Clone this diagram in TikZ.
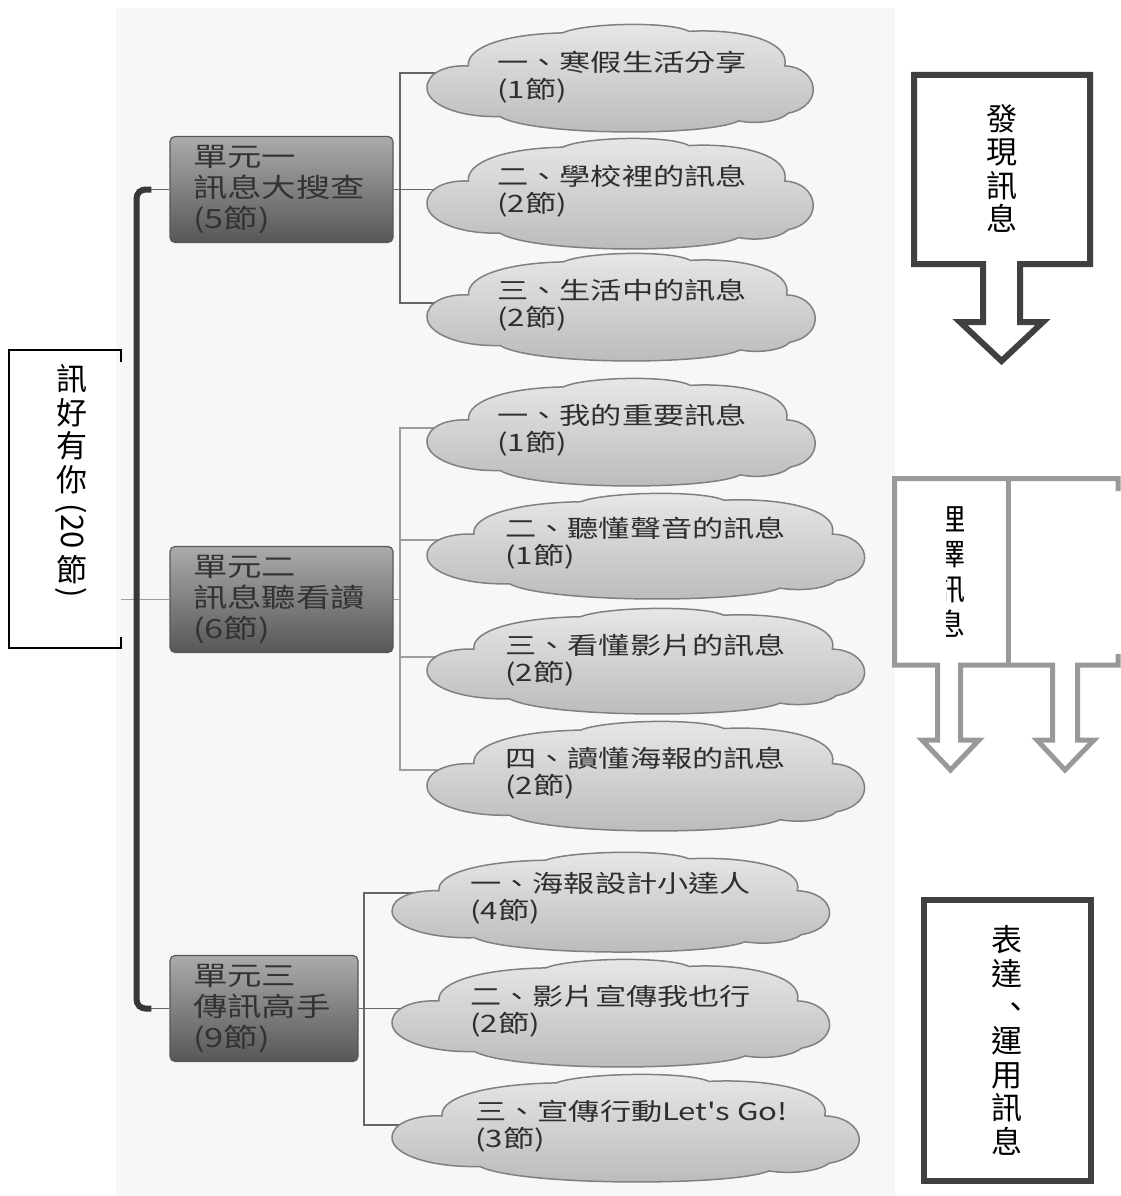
\documentclass[tikz,border=0pt]{standalone}
\usepackage{fontspec}
\newfontfamily\cjk{Noto Sans CJK TC}
\newfontfamily\cjkw[FakeStretch=1.3]{Noto Sans CJK TC}
\definecolor{bgc}{HTML}{F7F7F7}
\tikzset{
  unitbox/.style={rounded corners=5pt, draw=black!65, line width=1.2pt,
    top color=black!33, bottom color=black!66, text=black!80,
    font=\cjkw\fontsize{26.5}{31}\selectfont, align=left,
    inner xsep=23pt, inner ysep=0pt, minimum height=106pt},
  cloudsty/.style={draw=black!50, line width=1.5pt, top color=black!9, bottom color=black!27},
  ctext/.style={font=\cjkw\fontsize{24}{27}\selectfont, text=black!82, align=left, inner sep=0pt, anchor=west},
  vtext/.style={font=\cjk\fontsize{31}{33.5}\selectfont, align=center, inner sep=0pt, text=black},
  trunk/.style={line width=6pt, draw=black!78, rounded corners=9pt},
  brdark/.style={line width=1.5pt, draw=black!60},
  brlight/.style={line width=1.5pt, draw=black!38},
  darkarrow/.style={line width=6pt, draw=black!75},
  greyarrow/.style={line width=5pt, draw=black!40}
}
\newcommand\drawcloud[4]{%
  \begin{scope}[shift={(#1,#2)}, xscale=#3, yscale=#4]
    \path[cloudsty] (0,0.59)
      .. controls (0,0.45) and (0.05,0.38) .. (0.106,0.39)
      .. controls (0.10,0.22) and (0.20,0.10) .. (0.347,0.09)
      .. controls (0.40,0.0) and (0.62,-0.02) .. (0.67,0.076)
      .. controls (0.80,0.05) and (0.93,0.16) .. (0.915,0.39)
      .. controls (1.0,0.40) and (1.02,0.75) .. (0.924,0.82)
      .. controls (0.90,0.90) and (0.84,0.92) .. (0.797,0.89)
      .. controls (0.72,1.03) and (0.27,1.03) .. (0.186,0.85)
      .. controls (0.08,0.86) and (0,0.74) .. (0,0.59) -- cycle;
  \end{scope}}
\begin{document}
\begin{tikzpicture}[x=1pt, y=-1pt]
\useasboundingbox (0,0) rectangle (1121,1196);
\fill[white] (0,0) rectangle (1121,1196);
\fill[bgc] (116,8) rectangle (895,1196);

% root box
\draw[line width=2pt] (121,362) -- (121,350) -- (9,350) -- (9,648) -- (121,648) -- (121,637);
\node[vtext] (root) at (72,429) {訊\\好\\有\\你};
\node[vtext, rotate=-90] (root20) at (71,526) {(20};
\node[vtext] (rootjie) at (72,570) {節};
\node[vtext, rotate=-90] (rootpar) at (71,593) {)};
\coordinate (rootR) at (121,599.5);

% unit boxes
\node[unitbox, minimum width=223pt, text width=177pt] (u1) at (281.5,189.5) {單元一\\訊息大搜查\\(5節)};
\node[unitbox, minimum width=223pt, text width=177pt] (u2) at (281.5,599.5) {單元二\\訊息聽看讀\\(6節)};
\node[unitbox, minimum width=188pt, text width=142pt] (u3) at (264,1008.5) {單元三\\傳訊高手\\(9節)};

% trunk
\coordinate (tx) at (136.5,600);
\draw[brdark] (tx |- u1.west) -- (u1.west);
\draw[brdark] (tx |- u3.west) -- (u3.west);
\draw[brlight] (rootR) -- (u2.west);
\draw[trunk] ([xshift=-18pt]u1.west) -- (tx |- u1.west) -- (tx |- u3.west) -- ([xshift=-18pt]u3.west);

% cloud connection points
\coordinate (c1) at (470,73);
\coordinate (c2) at (470,189.5);
\coordinate (c3) at (470,303);
\coordinate (c4) at (470,428);
\coordinate (c5) at (470,540);
\coordinate (c6) at (470,657);
\coordinate (c7) at (470,770);
\coordinate (c8) at (430,893);
\coordinate (c9) at (430,1008.5);
\coordinate (c10) at (430,1125);
\coordinate (k1) at (400,189.5);
\coordinate (k2) at (400,599.5);
\coordinate (k3) at (364,1008.5);

\draw[brdark] (u1.east) -- (k1);
\draw[brdark] (c1) -| (k1) |- (c3);
\draw[brdark] (k1) -- (c2);
\draw[brlight] (u2.east) -- (k2);
\draw[brlight] (c4) -| (k2) |- (c7);
\draw[brlight] (k2 |- c5) -- (c5);
\draw[brlight] (k2 |- c6) -- (c6);
\draw[brdark] (u3.east) -- (k3);
\draw[brdark] (c8) -| (k3) |- (c10);
\draw[brdark] (k3) -- (c9);

% clouds
\drawcloud{427}{23}{391}{110}
\drawcloud{427}{137}{391}{113}
\drawcloud{427}{252}{393}{110}
\drawcloud{427}{377}{393}{110}
\drawcloud{427}{492}{443}{108}
\drawcloud{427}{607}{443}{108}
\drawcloud{427}{720}{443}{112}
\drawcloud{392}{851}{443}{102}
\drawcloud{392}{958}{443}{110}
\drawcloud{392}{1073}{473}{110}

\node[ctext] (t1) at (497,77.5) {一、寒假生活分享\\(1節)};
\node[ctext] (t2) at (497,191) {二、學校裡的訊息\\(2節)};
\node[ctext] (t3) at (497,305) {三、生活中的訊息\\(2節)};
\node[ctext] (t4) at (497,430) {一、我的重要訊息\\(1節)};
\node[ctext] (t5) at (505,543.5) {二、聽懂聲音的訊息\\(1節)};
\node[ctext] (t6) at (505,660) {三、看懂影片的訊息\\(2節)};
\node[ctext] (t7) at (505,773.5) {四、讀懂海報的訊息\\(2節)};
\node[ctext] (t8) at (470,898.5) {一、海報設計小達人\\(4節)};
\node[ctext] (t9) at (470,1011.5) {二、影片宣傳我也行\\(2節)};
\node[ctext] (t10) at (475,1126.5) {三、宣傳行動Let's Go!\\(3節)};

% discover arrow
\draw[darkarrow] (914,75) -- (1090,75) -- (1090,264) -- (1020,264) -- (1020,322) -- (1043,322) -- (1001.5,361) -- (960,322) -- (983,322) -- (983,264) -- (914,264) -- cycle;
\node[vtext] (discover) at (1001.5,168.5) {發\\現\\訊\\息};

% middle double arrow
\draw[greyarrow] (1118,491) -- (1118,478.5) -- (894.5,478.5) -- (894.5,665) -- (937.5,665) -- (937.5,740) -- (922,740) -- (950.5,770) -- (979,740) -- (960.5,740) -- (960.5,665) -- (1052.5,665) -- (1052.5,740) -- (1037,740) -- (1065,770) -- (1094,740) -- (1077.5,740) -- (1077.5,665) -- (1118,665) -- (1118,654);
\draw[greyarrow] (1008,478.5) -- (1008,665);
\begin{scope}
  \clip (946,482) rectangle (1005,662);
  \node[vtext, font=\cjk\fontsize{30}{35}\selectfont] (select) at (950,572.5) {理\\擇\\訊\\息};
\end{scope}

% express box
\draw[darkarrow] (923.7,899.7) rectangle (1090.5,1181);
\node[vtext, font=\cjk\fontsize{31}{33.6}\selectfont] (express) at (1007,1040.5) {表\\達\\\kern0.28em、\kern-0.28em\\運\\用\\訊\\息};
\end{tikzpicture}
\end{document}
